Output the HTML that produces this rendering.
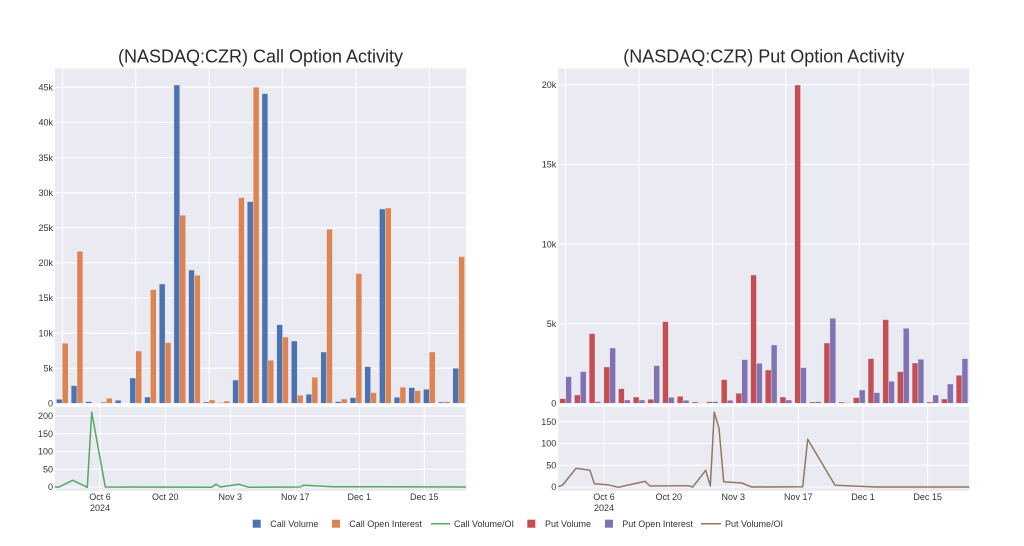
<!DOCTYPE html>
<html><head><meta charset="utf-8"><style>
html,body{margin:0;padding:0;background:#fff;}
svg{display:block;}
text{font-family:"Liberation Sans",Arial,sans-serif;fill:#333;}
.t{font-size:9px;}
.ti{font-size:18px;fill:#2a2a2a;}
</style></head><body>
<svg width="1024" height="546" viewBox="0 0 1024 546" xmlns="http://www.w3.org/2000/svg">
<rect x="0" y="0" width="1024" height="546" fill="#fff"/>
<!-- titles -->
<text class="ti" x="260.5" y="62.7" text-anchor="middle">(NASDAQ:CZR) Call Option Activity</text>
<text class="ti" x="763.8" y="62.7" text-anchor="middle">(NASDAQ:CZR) Put Option Activity</text>

<!-- plot backgrounds -->
<rect x="55" y="68.3" width="411" height="335" fill="#EAEAF2"/>
<rect x="55" y="407" width="411" height="84" fill="#EAEAF2"/>
<rect x="558.3" y="68.3" width="411" height="335" fill="#EAEAF2"/>
<rect x="558.3" y="407" width="411" height="84" fill="#EAEAF2"/>

<!-- gridlines -->
<g stroke="#fff" stroke-width="1">
<!-- left top horizontal -->
<line x1="55" x2="466" y1="368.2" y2="368.2"/><line x1="55" x2="466" y1="333.1" y2="333.1"/>
<line x1="55" x2="466" y1="298.0" y2="298.0"/><line x1="55" x2="466" y1="262.9" y2="262.9"/>
<line x1="55" x2="466" y1="227.8" y2="227.8"/><line x1="55" x2="466" y1="192.7" y2="192.7"/>
<line x1="55" x2="466" y1="157.6" y2="157.6"/><line x1="55" x2="466" y1="122.4" y2="122.4"/>
<line x1="55" x2="466" y1="87.3" y2="87.3"/>
<!-- left top vertical -->
<line y1="68.3" y2="403.3" x1="62.34" x2="62.34"/><line y1="68.3" y2="403.3" x1="135.74" x2="135.74"/>
<line y1="68.3" y2="403.3" x1="209.14" x2="209.14"/><line y1="68.3" y2="403.3" x1="282.54" x2="282.54"/>
<line y1="68.3" y2="403.3" x1="355.94" x2="355.94"/><line y1="68.3" y2="403.3" x1="429.34" x2="429.34"/>
<!-- left bottom -->
<line x1="55" x2="466" y1="487" y2="487"/><line x1="55" x2="466" y1="469.2" y2="469.2"/>
<line x1="55" x2="466" y1="451.5" y2="451.5"/><line x1="55" x2="466" y1="433.7" y2="433.7"/>
<line x1="55" x2="466" y1="416" y2="416"/>
<line y1="407" y2="491" x1="100" x2="100"/><line y1="407" y2="491" x1="165.3" x2="165.3"/>
<line y1="407" y2="491" x1="230.3" x2="230.3"/><line y1="407" y2="491" x1="295.3" x2="295.3"/>
<line y1="407" y2="491" x1="359.3" x2="359.3"/><line y1="407" y2="491" x1="424.3" x2="424.3"/>
<!-- right top horizontal -->
<line x1="558.3" x2="969.3" y1="323.7" y2="323.7"/><line x1="558.3" x2="969.3" y1="244.1" y2="244.1"/>
<line x1="558.3" x2="969.3" y1="164.5" y2="164.5"/><line x1="558.3" x2="969.3" y1="84.9" y2="84.9"/>
<!-- right top vertical -->
<line y1="68.3" y2="403.3" x1="565.64" x2="565.64"/><line y1="68.3" y2="403.3" x1="639.04" x2="639.04"/>
<line y1="68.3" y2="403.3" x1="712.44" x2="712.44"/><line y1="68.3" y2="403.3" x1="785.84" x2="785.84"/>
<line y1="68.3" y2="403.3" x1="859.24" x2="859.24"/><line y1="68.3" y2="403.3" x1="932.64" x2="932.64"/>
<!-- right bottom -->
<line x1="558.3" x2="969.3" y1="487" y2="487"/><line x1="558.3" x2="969.3" y1="465.2" y2="465.2"/>
<line x1="558.3" x2="969.3" y1="443.4" y2="443.4"/><line x1="558.3" x2="969.3" y1="421.7" y2="421.7"/>
<line y1="407" y2="491" x1="604" x2="604"/><line y1="407" y2="491" x1="668.7" x2="668.7"/>
<line y1="407" y2="491" x1="733.3" x2="733.3"/><line y1="407" y2="491" x1="798.3" x2="798.3"/>
<line y1="407" y2="491" x1="863" x2="863"/><line y1="407" y2="491" x1="927.7" x2="927.7"/>
</g>

<!-- left bars -->
<g transform="translate(0,403.3) scale(1,-1)" stroke="#EAEAF2" stroke-width="0.4">
<g fill="#4C72B0">
<rect x="56.47" y="0" width="5.87" height="4"/>
<rect x="71.15" y="0" width="5.87" height="17.7"/>
<rect x="85.83" y="0" width="5.87" height="1.7"/>
<rect x="100.51" y="0" width="5.87" height="1"/>
<rect x="115.19" y="0" width="5.87" height="3"/>
<rect x="129.87" y="0" width="5.87" height="25.3"/>
<rect x="144.55" y="0" width="5.87" height="6.3"/>
<rect x="159.23" y="0" width="5.87" height="119.3"/>
<rect x="173.91" y="0" width="5.87" height="318.3"/>
<rect x="188.59" y="0" width="5.87" height="133.3"/>
<rect x="203.27" y="0" width="5.87" height="1.3"/>
<rect x="217.95" y="0" width="5.87" height="0.7"/>
<rect x="232.63" y="0" width="5.87" height="23.3"/>
<rect x="247.31" y="0" width="5.87" height="201.7"/>
<rect x="261.99" y="0" width="5.87" height="309.7"/>
<rect x="276.67" y="0" width="5.87" height="78.7"/>
<rect x="291.35" y="0" width="5.87" height="62.3"/>
<rect x="306.03" y="0" width="5.87" height="9"/>
<rect x="320.71" y="0" width="5.87" height="51.3"/>
<rect x="335.39" y="0" width="5.87" height="1.7"/>
<rect x="350.07" y="0" width="5.87" height="5.7"/>
<rect x="364.75" y="0" width="5.87" height="36.7"/>
<rect x="379.43" y="0" width="5.87" height="194.3"/>
<rect x="394.11" y="0" width="5.87" height="6"/>
<rect x="408.79" y="0" width="5.87" height="15.7"/>
<rect x="423.47" y="0" width="5.87" height="14"/>
<rect x="438.15" y="0" width="5.87" height="1.3"/>
<rect x="452.83" y="0" width="5.87" height="35"/>
</g>
<g fill="#DD8452">
<rect x="62.34" y="0" width="5.87" height="60"/>
<rect x="77.02" y="0" width="5.87" height="152"/>
<rect x="106.38" y="0" width="5.87" height="5"/>
<rect x="135.74" y="0" width="5.87" height="52.3"/>
<rect x="150.42" y="0" width="5.87" height="113.7"/>
<rect x="165.10" y="0" width="5.87" height="60.7"/>
<rect x="179.78" y="0" width="5.87" height="188"/>
<rect x="194.46" y="0" width="5.87" height="128"/>
<rect x="209.14" y="0" width="5.87" height="3.3"/>
<rect x="223.82" y="0" width="5.87" height="2.3"/>
<rect x="238.50" y="0" width="5.87" height="205.7"/>
<rect x="253.18" y="0" width="5.87" height="316"/>
<rect x="267.86" y="0" width="5.87" height="43"/>
<rect x="282.54" y="0" width="5.87" height="66.3"/>
<rect x="297.22" y="0" width="5.87" height="8"/>
<rect x="311.90" y="0" width="5.87" height="26"/>
<rect x="326.58" y="0" width="5.87" height="174"/>
<rect x="341.26" y="0" width="5.87" height="4.3"/>
<rect x="355.94" y="0" width="5.87" height="129.7"/>
<rect x="370.62" y="0" width="5.87" height="10.7"/>
<rect x="385.30" y="0" width="5.87" height="195.3"/>
<rect x="399.98" y="0" width="5.87" height="16"/>
<rect x="414.66" y="0" width="5.87" height="12.7"/>
<rect x="429.34" y="0" width="5.87" height="51.3"/>
<rect x="444.02" y="0" width="5.87" height="1.7"/>
<rect x="458.70" y="0" width="5.87" height="146.7"/>
</g>
</g>

<!-- right bars -->
<g transform="translate(503.3,403.3) scale(1,-1)" stroke="#EAEAF2" stroke-width="0.4">
<g fill="#C44E52">
<rect x="56.47" y="0" width="5.87" height="4.7"/>
<rect x="71.15" y="0" width="5.87" height="8.3"/>
<rect x="85.83" y="0" width="5.87" height="69.7"/>
<rect x="100.51" y="0" width="5.87" height="36.3"/>
<rect x="115.19" y="0" width="5.87" height="14.7"/>
<rect x="129.87" y="0" width="5.87" height="6.3"/>
<rect x="144.55" y="0" width="5.87" height="4"/>
<rect x="159.23" y="0" width="5.87" height="81.7"/>
<rect x="173.91" y="0" width="5.87" height="7"/>
<rect x="188.59" y="0" width="5.87" height="1.3"/>
<rect x="203.27" y="0" width="5.87" height="1.7"/>
<rect x="217.95" y="0" width="5.87" height="23.7"/>
<rect x="232.63" y="0" width="5.87" height="10"/>
<rect x="247.31" y="0" width="5.87" height="128.3"/>
<rect x="261.99" y="0" width="5.87" height="33.3"/>
<rect x="276.67" y="0" width="5.87" height="6.3"/>
<rect x="291.35" y="0" width="5.87" height="318.3"/>
<rect x="306.03" y="0" width="5.87" height="1.3"/>
<rect x="320.71" y="0" width="5.87" height="60.3"/>
<rect x="335.39" y="0" width="5.87" height="1.3"/>
<rect x="350.07" y="0" width="5.87" height="5.7"/>
<rect x="364.75" y="0" width="5.87" height="44.7"/>
<rect x="379.43" y="0" width="5.87" height="83.7"/>
<rect x="394.11" y="0" width="5.87" height="31.7"/>
<rect x="408.79" y="0" width="5.87" height="40.3"/>
<rect x="423.47" y="0" width="5.87" height="1.3"/>
<rect x="438.15" y="0" width="5.87" height="4.3"/>
<rect x="452.83" y="0" width="5.87" height="28"/>
</g>
<g fill="#8172B3">
<rect x="62.34" y="0" width="5.87" height="26.7"/>
<rect x="77.02" y="0" width="5.87" height="31.7"/>
<rect x="91.70" y="0" width="5.87" height="1.7"/>
<rect x="106.38" y="0" width="5.87" height="55.3"/>
<rect x="121.06" y="0" width="5.87" height="3.3"/>
<rect x="135.74" y="0" width="5.87" height="3.3"/>
<rect x="150.42" y="0" width="5.87" height="37.7"/>
<rect x="165.10" y="0" width="5.87" height="6"/>
<rect x="179.78" y="0" width="5.87" height="3"/>
<rect x="194.46" y="0" width="5.87" height="0.5"/>
<rect x="209.14" y="0" width="5.87" height="1.7"/>
<rect x="223.82" y="0" width="5.87" height="3"/>
<rect x="238.50" y="0" width="5.87" height="43.7"/>
<rect x="253.18" y="0" width="5.87" height="40"/>
<rect x="267.86" y="0" width="5.87" height="58.3"/>
<rect x="282.54" y="0" width="5.87" height="3.3"/>
<rect x="297.22" y="0" width="5.87" height="35.7"/>
<rect x="311.90" y="0" width="5.87" height="1.7"/>
<rect x="326.58" y="0" width="5.87" height="85"/>
<rect x="341.26" y="0" width="5.87" height="0.7"/>
<rect x="355.94" y="0" width="5.87" height="13.3"/>
<rect x="370.62" y="0" width="5.87" height="10.7"/>
<rect x="385.30" y="0" width="5.87" height="22"/>
<rect x="399.98" y="0" width="5.87" height="75"/>
<rect x="414.66" y="0" width="5.87" height="44"/>
<rect x="429.34" y="0" width="5.87" height="8.3"/>
<rect x="444.02" y="0" width="5.87" height="19.3"/>
<rect x="458.70" y="0" width="5.87" height="44.7"/>
</g>
</g>

<!-- lines -->
<polyline fill="none" stroke="#55A868" stroke-width="1.5" stroke-linejoin="round"
 points="55,486.7 58.3,487.3 72.7,480.3 87.3,487.3 91.7,412.3 105.3,487 211.7,487.3 216,484.3 220.3,487 239.3,484.3 248.7,487.3 300,487 303.3,485.3 333.3,486.7 466,487"/>
<polyline fill="none" stroke="#937860" stroke-width="1.5" stroke-linejoin="round"
 points="558.3,486.7 562.7,485 576,468.3 590,470.3 594.3,483.7 607.3,484.7 618.3,487.3 645,481.3 650,486 688.3,485.7 692.7,487 705.7,470.3 710.3,486 714.3,412.3 719,428.3 723.7,481.7 741.7,483 751.7,487 802.7,486.7 807.7,439.3 835,485.3 876.7,487 969.3,487"/>

<!-- y tick labels left top -->
<g class="t" text-anchor="end">
<text x="53" y="406.5">0</text><text x="53" y="371.4">5k</text><text x="53" y="336.3">10k</text>
<text x="53" y="301.2">15k</text><text x="53" y="266.1">20k</text><text x="53" y="231">25k</text>
<text x="53" y="195.9">30k</text><text x="53" y="160.8">35k</text><text x="53" y="125.6">40k</text>
<text x="53" y="90.5">45k</text>
<!-- left bottom -->
<text x="53" y="490.2">0</text><text x="53" y="472.4">50</text><text x="53" y="454.7">100</text>
<text x="53" y="436.9">150</text><text x="53" y="419.2">200</text>
<!-- right top -->
<text x="556.3" y="406.5">0</text><text x="556.3" y="326.9">5k</text><text x="556.3" y="247.3">10k</text>
<text x="556.3" y="167.7">15k</text><text x="556.3" y="88.1">20k</text>
<!-- right bottom -->
<text x="556.3" y="490.2">0</text><text x="556.3" y="468.4">50</text><text x="556.3" y="446.6">100</text>
<text x="556.3" y="424.9">150</text>
</g>

<!-- x tick labels -->
<g class="t" text-anchor="middle">
<text x="100" y="500">Oct 6</text><text x="100" y="511">2024</text>
<text x="165.3" y="500">Oct 20</text><text x="230.3" y="500">Nov 3</text>
<text x="295.3" y="500">Nov 17</text><text x="359.3" y="500">Dec 1</text>
<text x="424.3" y="500">Dec 15</text>
<text x="604" y="500">Oct 6</text><text x="604" y="511">2024</text>
<text x="668.7" y="500">Oct 20</text><text x="733.3" y="500">Nov 3</text>
<text x="798.3" y="500">Nov 17</text><text x="863" y="500">Dec 1</text>
<text x="927.7" y="500">Dec 15</text>
</g>

<!-- legend -->
<rect x="252.7" y="519.7" width="8" height="8" fill="#4C72B0"/>
<text class="t" x="270.3" y="527">Call Volume</text>
<rect x="332" y="519.7" width="8" height="8" fill="#DD8452"/>
<text class="t" x="349.3" y="527">Call Open Interest</text>
<line x1="431" x2="450" y1="523.7" y2="523.7" stroke="#55A868" stroke-width="1.5"/>
<text class="t" x="454" y="527">Call Volume/OI</text>
<rect x="527.3" y="519.7" width="8" height="8" fill="#C44E52"/>
<text class="t" x="545" y="527">Put Volume</text>
<rect x="605" y="519.7" width="8" height="8" fill="#8172B3"/>
<text class="t" x="622.3" y="527">Put Open Interest</text>
<line x1="701" x2="721" y1="523.7" y2="523.7" stroke="#937860" stroke-width="1.5"/>
<text class="t" x="725" y="527">Put Volume/OI</text>
</svg>
</body></html>
